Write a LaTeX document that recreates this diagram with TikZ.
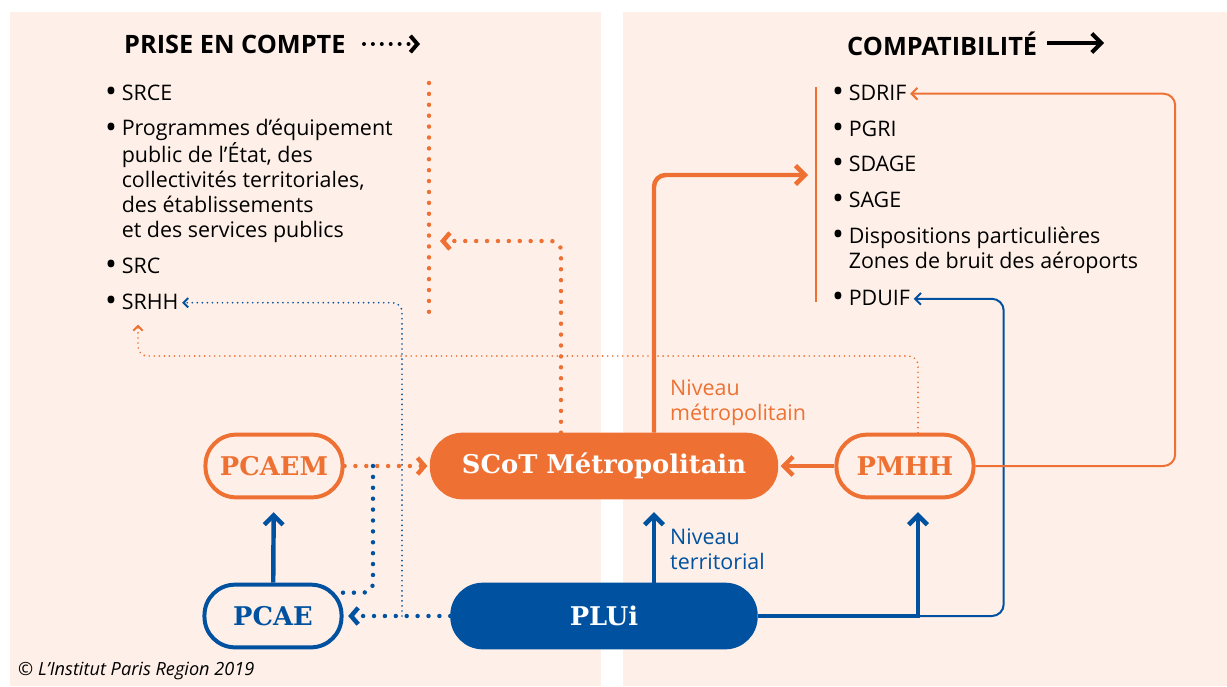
\documentclass[tikz,border=0pt]{standalone}
\usepackage{fontspec}
\setmainfont{Open Sans}
\newfontfamily\slab{DejaVu Serif}
\usetikzlibrary{arrows.meta,positioning,calc}

\definecolor{orangeipr}{HTML}{EE7133}
\definecolor{bleuipr}{HTML}{0051A0}
\definecolor{fondipr}{HTML}{FEF0E8}

\newcommand{\puce}{\llap{\raisebox{-2.5pt}{\fontsize{27}{27}\selectfont •}\hspace{4pt}}}

\tikzset{
  contour/.style={draw, line width=3.4pt, rounded corners=26pt, minimum width=117pt,
    minimum height=53.5pt, inner sep=0pt, font=\slab\bfseries\fontsize{22}{26}\selectfont},
  plein/.style={contour, fill=#1, draw=#1, text=white},
  item/.style={anchor=base west, inner sep=3pt, align=left, font=\fontsize{18.3}{21.3}\selectfont},
  titre/.style={anchor=base west, inner sep=0pt, font=\bfseries\fontsize{21.6}{24}\selectfont},
  fleche/.style={line width=3.8pt, rounded corners=10pt, -{Straight Barb[length=8pt,width=16pt]}},
  fil/.style={line width=1.7pt, rounded corners=10pt, -{Straight Barb[length=5pt,width=10pt]}},
  pointille/.style={line width=3.8pt, line cap=round, rounded corners=8pt,
    dash pattern=on 0pt off 9.3pt, -{Straight Barb[length=6pt,width=14pt]}},
  pointillefin/.style={line width=1.6pt, line cap=round, rounded corners=8pt,
    dash pattern=on 0pt off 4.3pt, -{Straight Barb[length=4pt,width=8pt]}}
}

\begin{document}
\begin{tikzpicture}[x=0.03cm, y=-0.03cm]
  \useasboundingbox (0,0) rectangle (1227,686);
  \fill[fondipr] (10,12) rectangle (601,686);
  \fill[fondipr] (623,12) rectangle (1227,686);

  \node[titre] (prise) at (124,53) {PRISE EN COMPTE};
  \node[titre] (compat) at (847,55) {COMPATIBILITÉ};
  \coordinate (prisefin) at (420,44);
  \coordinate (compatfin) at (1104,43);
  \draw[pointille, black, line width=3.4pt, dash pattern=on 0pt off 7.6pt] (364,44) to (prisefin);
  \draw[fleche, black, line width=3.4pt] (1047,43) to (compatfin);

  % les noeuds sur plusieurs lignes sont places par la ligne du bas
  \node[item] (srce) at (118,100) {\puce SRCE};
  \node[item] (programmes) at (118,237) {\puce Programmes d’équipement\\public de l’État, des\\collectivités territoriales,\\des établissements\\et des services publics};
  \node[item] (src) at (118,273) {\puce SRC};
  \node[item] (srhh) at (118,309) {\puce SRHH};

  \node[item] (sdrif) at (845,100) {\puce SDRIF};
  \node[item] (pgri) at (845,136) {\puce PGRI};
  \node[item] (sdage) at (845,171) {\puce SDAGE};
  \node[item] (sage) at (845,207) {\puce SAGE};
  \node[item] (dispositions) at (845,268) {\puce Dispositions particulières\\Zones de bruit des aéroports};
  \node[item] (pduif) at (845,305) {\puce PDUIF};

  \draw[orangeipr, line width=3.8pt, line cap=round, dash pattern=on 0pt off 9.3pt] (429,83) -- (429,318);
  \draw[orangeipr, line width=1.7pt] (816,87) -- (816,302);

  \node[contour, orangeipr] (pcaem) at (274,466) {PCAEM};
  \node[plein=orangeipr, minimum width=294pt] (scot) at (604,466) {SCoT Métropolitain};
  \node[contour, orangeipr] (pmhh) at (905,466) {PMHH};
  \node[contour, bleuipr] (pcae) at (273,616) {PCAE};
  \node[plein=bleuipr, minimum width=259pt] (plui) at (604,616) {PLUi};

  \node[item, orangeipr, inner sep=0pt] (niveaumetro) at (670,420) {Niveau\\métropolitain};
  \node[item, bleuipr, inner sep=0pt] (niveauterri) at (670,569) {Niveau\\territorial};
  \node[anchor=base west, inner sep=0pt, font=\itshape\fontsize{15.5}{18}\selectfont] (credit) at (18,675) {© L’Institut Paris Region 2019};

  \coordinate (jonctionpcae) at (402,616);
  \coordinate (jonctionpcaem) at (373,466);
  \coordinate (jonctionpmhh) at (918,616);
  \coordinate (coudesrhh) at (138,356);
  \coordinate (cibleprise) at (440,241);
  \coordinate (ciblecompat) at (808,175);

  \draw[pointillefin, orangeipr] ($(pmhh.north)+(13,0)$) |- (coudesrhh) to ($(coudesrhh |- srhh.south)+(0,9)$);
  \draw[pointillefin, bleuipr] (jonctionpcae) |- (srhh.east);
  \draw[pointille, bleuipr, -] (jonctionpcaem) |- ($(pcae.north east)+(-5,10)$);
  \draw[pointille, orangeipr, shorten >=2pt] (pcaem) to (scot);
  \draw[pointille, bleuipr, shorten >=4pt] (plui) to (pcae);
  \draw[pointille, orangeipr] ($(scot.north)+(-43,0)$) |- (cibleprise);

  \draw[fil, bleuipr] (jonctionpmhh) -| ($(pduif.east)+(90,0)$) to (pduif.east);
  \draw[fil, orangeipr] (pmhh.east) -| ($(sdrif.east)+(265,0)$) to (sdrif.east);
  \draw[fleche, bleuipr, shorten >=11pt] (pcae) to (pcaem);
  \draw[fleche, bleuipr, shorten >=11pt] ($(plui.north)+(50,0)$) to ($(scot.south)+(50,0)$);
  \draw[fleche, bleuipr, sharp corners, shorten >=11pt] (plui.east) -| ($(pmhh.south)+(13,0)$);
  \draw[fleche, orangeipr] ($(scot.north)+(50,0)$) |- (ciblecompat);
  \draw[fleche, orangeipr, shorten >=2pt] (pmhh) to (scot);
\end{tikzpicture}
\end{document}
